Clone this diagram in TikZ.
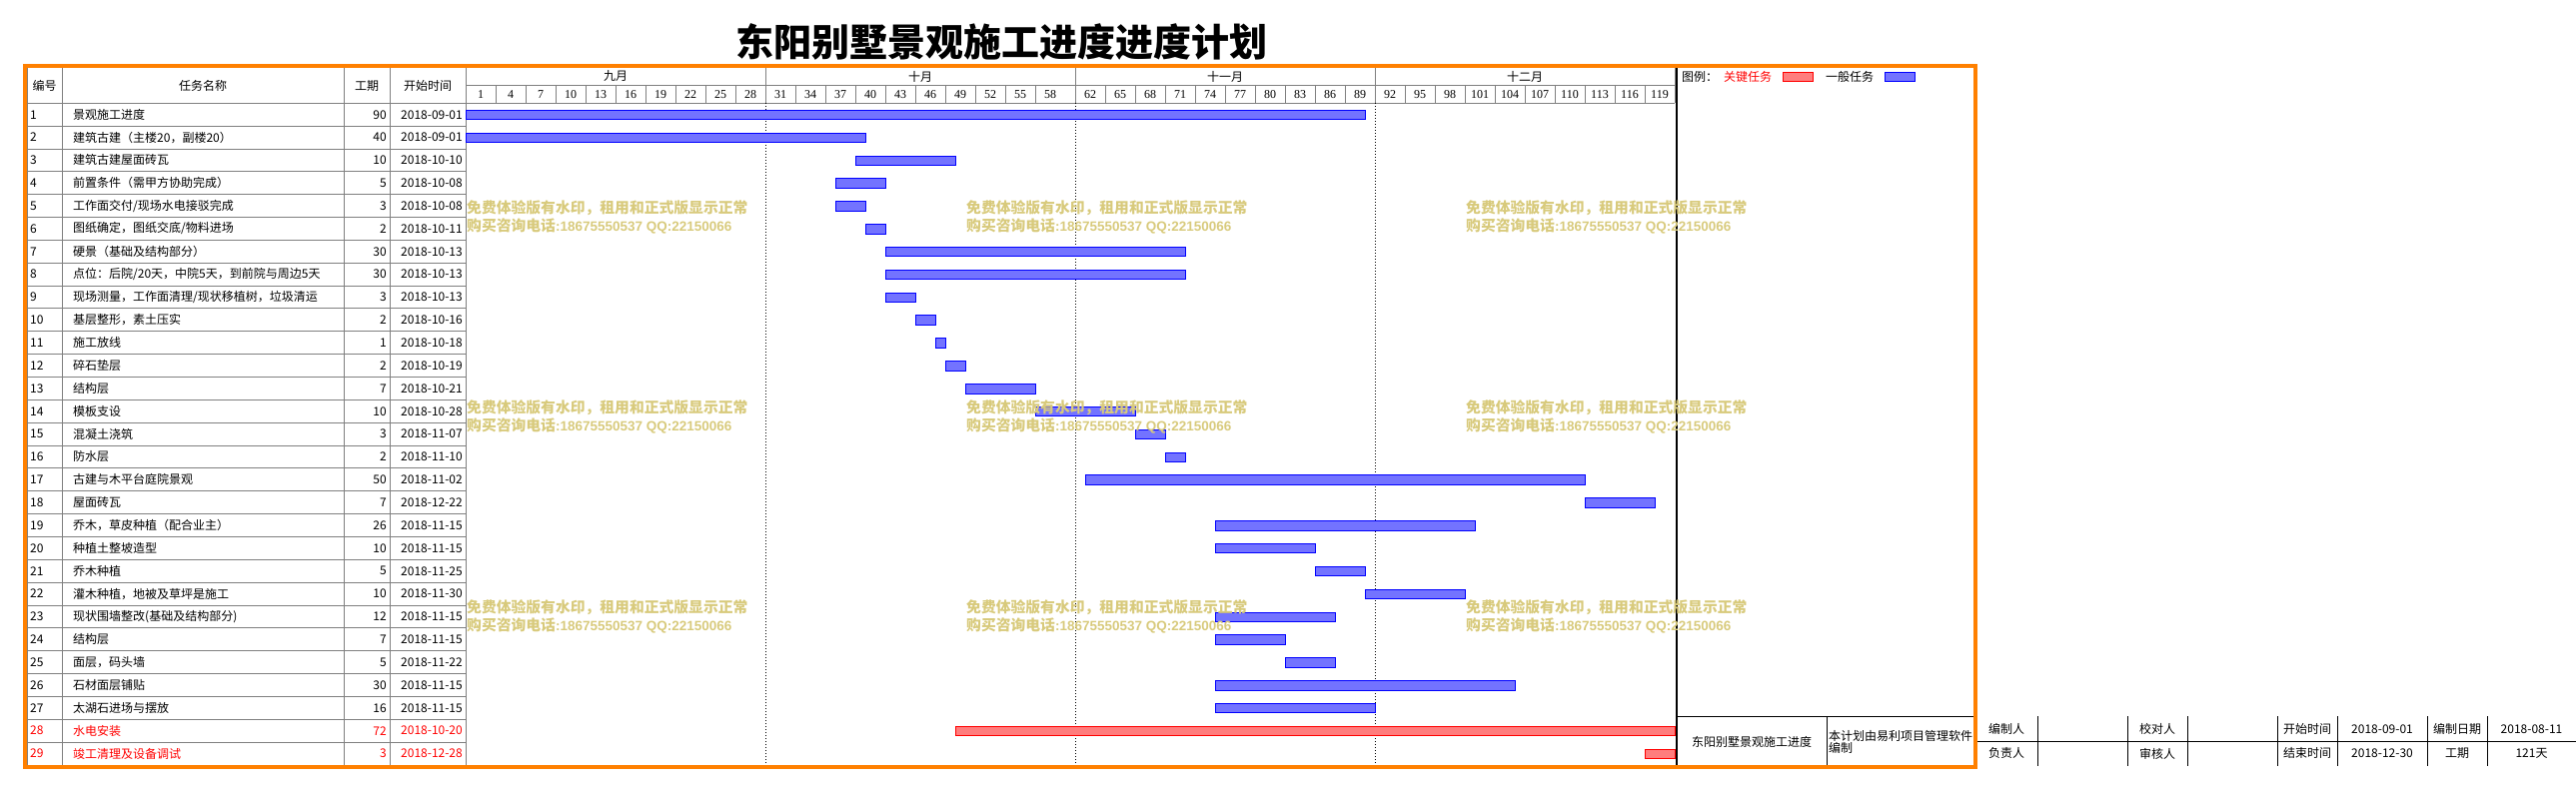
\documentclass[tikz,border=0pt]{standalone}
\usepackage{fontspec}
\setmainfont{Noto Sans CJK SC}
\newfontfamily\numfont{Liberation Serif}
\newfontfamily\latinfont{Liberation Sans}
\definecolor{frameorange}{RGB}{255,128,0}
\definecolor{gridgray}{RGB}{128,128,128}
\definecolor{barblue}{RGB}{115,115,255}
\definecolor{barred}{RGB}{255,125,125}
\definecolor{watergold}{RGB}{216,202,124}

\begin{document}
\begin{tikzpicture}[x=1pt, y=-1pt,
    cell/.style={inner sep=0pt, font=\fontsize{12}{14}\selectfont},
    tick/.style={inner sep=0pt, font=\numfont\fontsize{12}{14}\selectfont},
    grid/.style={draw=gridgray, line width=1pt},
    genbar/.style={draw=blue, fill=barblue, line width=1pt},
    keybar/.style={draw=red, fill=barred, line width=1pt},
    mark line/.style={dotted, line width=1pt},
    water/.style={inner sep=0pt, anchor=west, watergold, font=\bfseries\fontsize{14.8}{15}\selectfont}]
  \useasboundingbox (0,0) rectangle (2578,792);

  \node[inner sep=0pt, font=\bfseries\fontsize{38}{38}\selectfont] (title) at (1002,42) {东阳别墅景观施工进度进度计划};

  % table grid
  \foreach \x in {27,62,344,390,466}
    \draw[grid] (\x,66) -- (\x,766);
  \foreach \r in {1,...,28}
    \draw[grid] (27,{103.3+\r*22.85}) -- (466,{103.3+\r*22.85});
  \draw[grid] (27,103.3) -- (1676,103.3);
  \draw[grid] (466,85) -- (1676,85);
  \foreach \x in {766,1076,1376,1676}
    \draw[grid] (\x,66) -- (\x,85);
  \foreach \d in {4,7,...,58,62,65,...,122}
    \draw[grid] ({466+(\d-1)*10},85) -- ({466+(\d-1)*10},103.3);

  \node[cell] (hno) at (44.5,86) {编号};
  \node[cell] (hname) at (203,86) {任务名称};
  \node[cell] (hdur) at (367,86) {工期};
  \node[cell] (hstart) at (428,86) {开始时间};

  \foreach \m/\x in {九月/616, 十月/921, 十一月/1226, 十二月/1526}
    \node[cell] (m\x) at (\x,76.5) {\m};
  \foreach \d in {1,4,...,58,62,65,...,119}
    \node[tick] (t\d) at ({466+(\d-1)*10+15},94.5) {\d};

  \foreach \x in {766,1076,1376}
    \draw[mark line] (\x,103.3) -- (\x,766);

  \foreach \row/\task/\dur/\sdate/\dd/\tc/\bs in {
    1/{景观施工进度}/90/09-01/1/black/genbar,
    2/{建筑古建（主楼20，副楼20）}/40/09-01/1/black/genbar,
    3/{建筑古建屋面砖瓦}/10/10-10/40/black/genbar,
    4/{前置条件（需甲方协助完成）}/5/10-08/38/black/genbar,
    5/{工作面交付/现场水电接驳完成}/3/10-08/38/black/genbar,
    6/{图纸确定，图纸交底/物料进场}/2/10-11/41/black/genbar,
    7/{硬景（基础及结构部分）}/30/10-13/43/black/genbar,
    8/{点位：后院/20天，中院5天，到前院与周边5天}/30/10-13/43/black/genbar,
    9/{现场测量，工作面清理/现状移植树，垃圾清运}/3/10-13/43/black/genbar,
    10/{基层整形，素土压实}/2/10-16/46/black/genbar,
    11/{施工放线}/1/10-18/48/black/genbar,
    12/{碎石垫层}/2/10-19/49/black/genbar,
    13/{结构层}/7/10-21/51/black/genbar,
    14/{模板支设}/10/10-28/58/black/genbar,
    15/{混凝土浇筑}/3/11-07/68/black/genbar,
    16/{防水层}/2/11-10/71/black/genbar,
    17/{古建与木平台庭院景观}/50/11-02/63/black/genbar,
    18/{屋面砖瓦}/7/12-22/113/black/genbar,
    19/{乔木，草皮种植（配合业主）}/26/11-15/76/black/genbar,
    20/{种植土整坡造型}/10/11-15/76/black/genbar,
    21/{乔木种植}/5/11-25/86/black/genbar,
    22/{灌木种植，地被及草坪是施工}/10/11-30/91/black/genbar,
    23/{现状围墙整改(基础及结构部分)}/12/11-15/76/black/genbar,
    24/{结构层}/7/11-15/76/black/genbar,
    25/{面层，码头墙}/5/11-22/83/black/genbar,
    26/{石材面层铺贴}/30/11-15/76/black/genbar,
    27/{太湖石进场与摆放}/16/11-15/76/black/genbar,
    28/{水电安装}/72/10-20/50/red/keybar,
    29/{竣工清理及设备调试}/3/12-28/119/red/keybar}{
    \pgfmathsetmacro\rowy{103.3+(\row-0.5)*22.85}
    \node[cell, anchor=west, \tc] (no\row) at (30,\rowy) {\row};
    \node[cell, anchor=west, \tc] (task\row) at (73,\rowy) {\task};
    \node[cell, anchor=east, \tc] (dur\row) at (387,\rowy) {\dur};
    \node[cell, anchor=east, \tc] (start\row) at (463,\rowy) {2018-\sdate};
    \draw[\bs] ({466+(\dd-1)*10},{\rowy-4.4}) rectangle ++({\dur*10},9.5);
  }

  % legend and bottom box
  \draw[line width=1.3pt] (1678,66) -- (1678,766);
  \node[cell, anchor=west] (legend) at (1683,77) {图例：};
  \node[cell, anchor=west, red] (keylabel) at (1725,77) {关键任务};
  \draw[keybar] (1784,72.3) rectangle (1814,81.7);
  \node[cell, anchor=west] (genlabel) at (1827,77) {一般任务};
  \draw[genbar] (1886,72.3) rectangle (1916,81.7);
  \draw[line width=1pt] (1678,717.3) -- (1977,717.3);
  \draw[line width=1pt] (1828,717.3) -- (1828,766);
  \node[cell] (project) at (1753,743) {东阳别墅景观施工进度};
  \node[cell, anchor=west, align=left, font=\fontsize{12}{12.6}\selectfont] (soft) at (1830,743) {本计划由易利项目管理软件\\编制};

  \foreach \x in {2039,2129,2189,2279,2339,2429,2489}
    \draw[line width=1pt] (\x,717.3) -- (\x,767);
  \draw[line width=1pt] (1977,742.3) -- (2578,742.3);
  \foreach \c/\x/\ta/\tb in {1/2008/编制人/负责人, 2/2159/校对人/审核人,
      3/2309/开始时间/结束时间, 4/2384/2018-09-01/2018-12-30,
      5/2459/编制日期/工期, 6/2533.5/2018-08-11/121天}{
    \node[cell] (sa\c) at (\x,729.8) {\ta};
    \node[cell] (sb\c) at (\x,754.4) {\tb};
  }

  \foreach \wx in {467,967,1467}
    \foreach \wy in {208,408,608}{
      \node[water] (wa\wx\wy) at (\wx,\wy) {免费体验版有水印，租用和正式版显示正常};
      \node[water] (wb\wx\wy) at (\wx,\wy+18) {购买咨询电话{\latinfont\fontsize{13.5}{15}\selectfont :18675550537 QQ:22150066}};
    }

  \draw[frameorange, line width=3.5pt] (25,66) rectangle (1977,768);
\end{tikzpicture}
\end{document}
